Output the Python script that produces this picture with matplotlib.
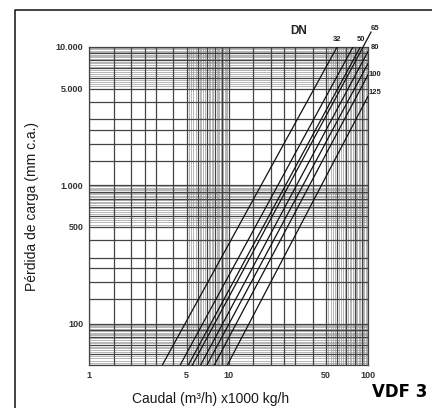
import numpy as np
import matplotlib
matplotlib.use('Agg')
import matplotlib.pyplot as plt
from matplotlib.lines import Line2D

plt.rcParams['font.family'] = ['Liberation Sans', 'DejaVu Sans']

# curves: start point and end point (Q in m3/h, loss in mm c.a.)
q_start = [3.35, 4.5, 5.15, 5.5, 6.3, 7.0, 7.9, 9.8]
dp_start = [50, 50, 50, 50, 50, 50, 50, 50]
q_end = [60, 78, 88, 105, 100, 100, 100, 100]
dp_end = [10000, 10000, 10000, 12800, 9300, 7600, 6300, 4400]

dn_labels = ['32', '50', '65', '80', '100', '125']
dn_pos = [(60, 11300), (89, 11300), (112, 13600), (112, 9900), (112, 6350), (112, 4700)]

x_ticks = [1, 5, 10, 50, 100]
x_tick_labels = ['1', '5', '10', '50', '100']
y_ticks = [100, 500, 1000, 5000, 10000]
y_tick_labels = ['100', '500', '1.000', '5.000', '10.000']

fig = plt.figure(figsize=(4.32, 4.08), dpi=100)
ax = fig.add_axes([0.206, 0.105, 0.646, 0.78])
ax.set_xscale('log')
ax.set_yscale('log')
ax.set_xlim(1, 100)
ax.set_ylim(50, 10000)

# log paper grid
for dec in [1, 10]:
    for v in [1, 1.5, 2, 2.5, 3, 4, 5, 6, 7, 8, 9]:
        ax.axvline(v * dec, color='#444444', lw=0.9, zorder=1)
    for v in np.arange(5.2, 10, 0.2):
        ax.axvline(v * dec, color='#999999', lw=0.5, zorder=0)
for dec in [10, 100, 1000]:
    for v in [1, 1.5, 2, 2.5, 3, 4, 5, 6, 7, 8, 9]:
        if v * dec >= 50:
            ax.axhline(v * dec, color='#444444', lw=0.9, zorder=1)
    for v in np.arange(5.2, 10, 0.2):
        ax.axhline(v * dec, color='#999999', lw=0.5, zorder=0)
ax.axhline(10000, color='#444444', lw=0.9, zorder=1)

for i in range(len(q_start)):
    ax.plot([q_start[i], q_end[i]], [dp_start[i], dp_end[i]], color='#111111',
            lw=0.9, zorder=3, clip_on=(i != 3))

for lab, (qx, dy) in zip(dn_labels, dn_pos):
    ax.text(qx, dy, lab, fontsize=5.5, fontweight='bold', color='#222222',
            ha='center', va='center', clip_on=False)
ax.text(32, 13000, 'DN', fontsize=8.5, fontweight='bold', color='#222222',
        ha='center', va='center')

ax.minorticks_off()
ax.set_xticks(x_ticks)
ax.set_xticklabels(x_tick_labels, fontsize=6.5, fontweight='bold', color='#333333')
ax.set_yticks(y_ticks)
ax.set_yticklabels(y_tick_labels, fontsize=6.5, fontweight='bold', color='#333333')
ax.tick_params(length=0, pad=4)
for s in ax.spines.values():
    s.set_color('#444444')
    s.set_linewidth(0.9)

ax.set_xlabel('Caudal (m³/h) x1000 kg/h', fontsize=10, color='#1a1a1a')
ax.xaxis.set_label_coords(0.434, -0.085)
ax.set_ylabel('Pérdida de carga (mm c.a.)', fontsize=10, color='#1a1a1a', labelpad=12)

fig.text(0.99, 0.04, 'VDF 3', fontsize=12, fontweight='bold', ha='right',
         va='center', family=['Liberation Sans Narrow', 'DejaVu Sans'])

# page frame
fig.add_artist(Line2D([0.035, 0.035, 1.0], [0.0, 0.975, 0.975],
                      transform=fig.transFigure, color='#222222', lw=1.2))

fig.savefig('out.png', dpi=100)
